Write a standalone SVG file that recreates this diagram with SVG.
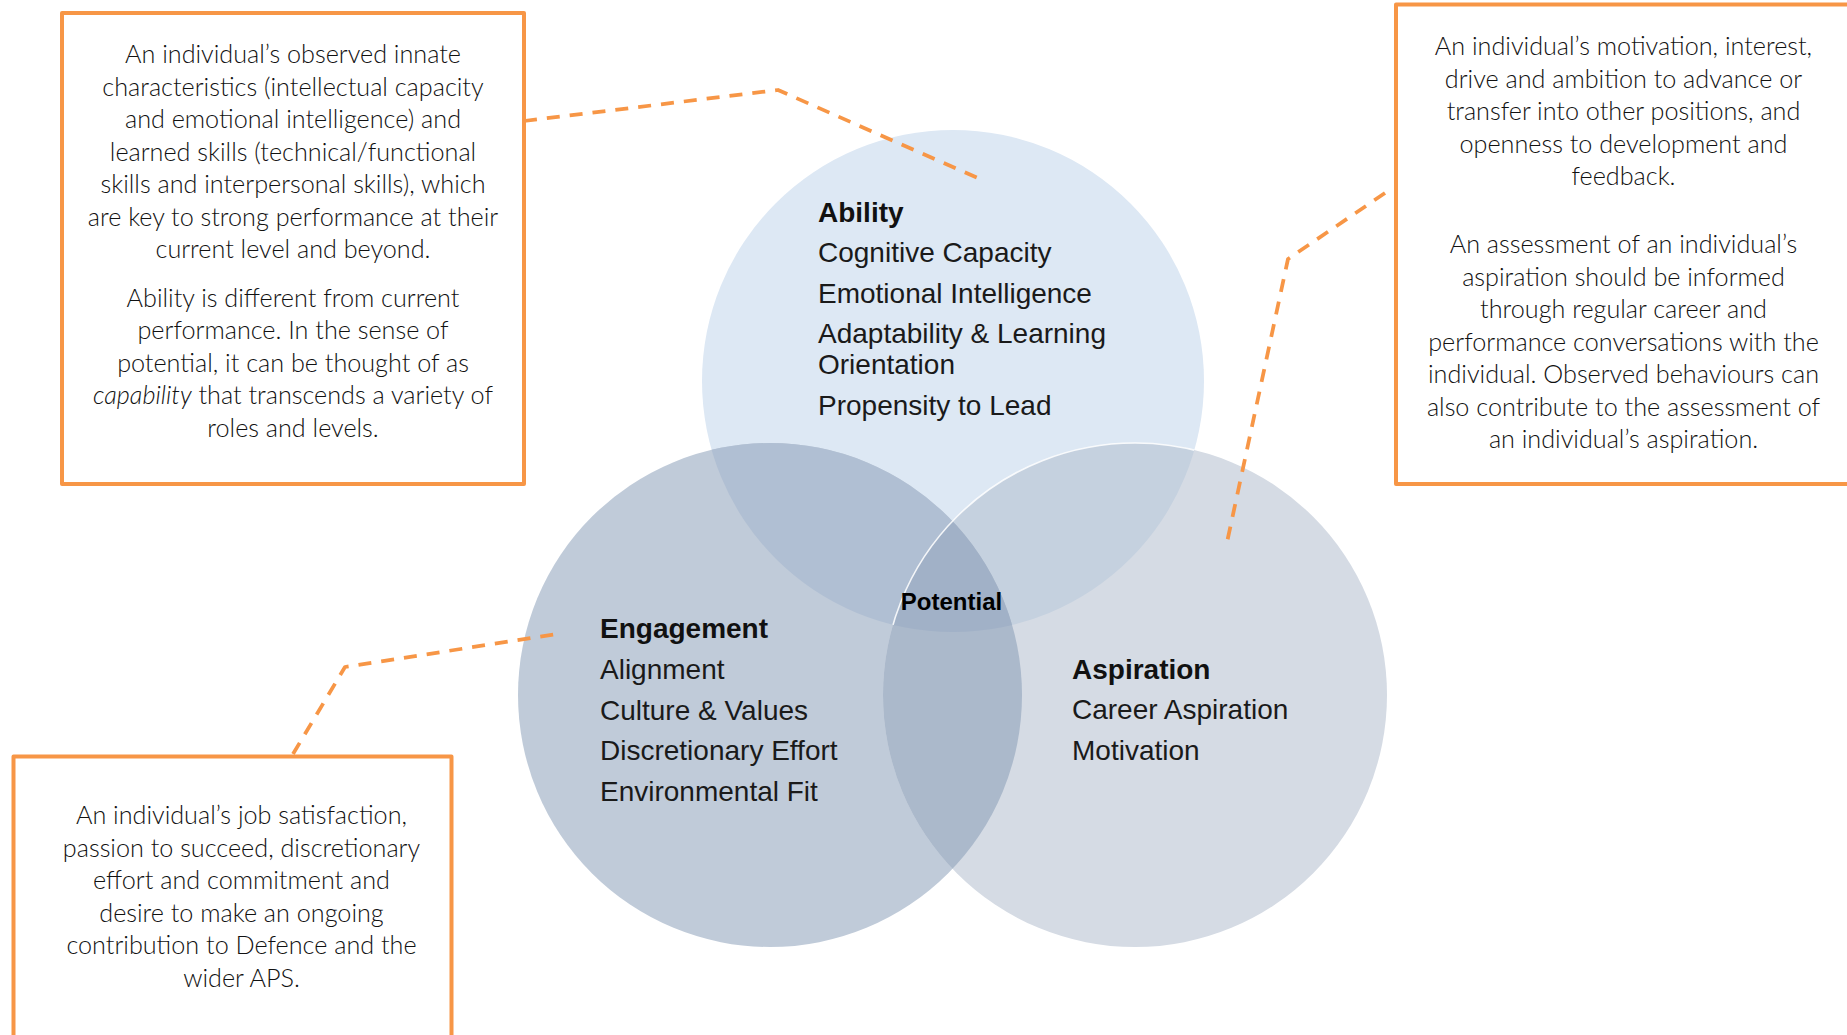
<svg xmlns="http://www.w3.org/2000/svg" width="1847" height="1035" viewBox="0 0 1847 1035">
  <style>
    .head { font-family: "Liberation Sans", Arial, sans-serif; font-size: 28px; font-weight: bold; fill: #111; }
    .item { font-family: "Liberation Sans", Arial, sans-serif; font-size: 28px; fill: #1a1a1a; }
    .pot  { font-family: "Liberation Sans", Arial, sans-serif; font-size: 24px; font-weight: bold; fill: #000; }
    .note { font-family: Lato, "Open Sans", sans-serif; font-weight: 300; font-size: 25.2px; fill: #111; text-anchor: middle; }
    .box  { fill: #fff; stroke: #F79646; stroke-width: 4; stroke-linejoin: round; }
    .link { fill: none; stroke: #F79646; stroke-width: 3.75; stroke-dasharray: 13 10; stroke-linejoin: round; }
  </style>
  <defs>
    <clipPath id="clipAbility"><circle cx="953" cy="381" r="251"/></clipPath>
    <clipPath id="clipEngagement"><circle cx="770" cy="695" r="252"/></clipPath>
  </defs>

  <rect width="1847" height="1035" fill="#fff"/>

  <!-- Venn circle: Ability -->
  <g id="ability">
    <circle cx="953" cy="381" r="251" fill="#DDE8F4"/>
    <text class="head" x="818" y="222">Ability</text>
    <text class="item" x="818" y="262">Cognitive Capacity</text>
    <text class="item" x="818" y="302.5">Emotional Intelligence</text>
    <text class="item" x="818" y="343">Adaptability &amp; Learning</text>
    <text class="item" x="818" y="374">Orientation</text>
    <text class="item" x="818" y="414.5">Propensity to Lead</text>
  </g>

  <!-- Venn circle: Engagement (with its overlap on Ability) -->
  <g id="engagement">
    <circle cx="770" cy="695" r="252" fill="#C0CBD9"/>
    <circle cx="770" cy="695" r="252" fill="#B0BFD3" clip-path="url(#clipAbility)"/>
    <text class="head" x="600" y="637.5">Engagement</text>
    <text class="item" x="600" y="678.5">Alignment</text>
    <text class="item" x="600" y="719.5">Culture &amp; Values</text>
    <text class="item" x="600" y="760">Discretionary Effort</text>
    <text class="item" x="600" y="801">Environmental Fit</text>
  </g>

  <!-- Venn circle: Aspiration (with its overlaps) -->
  <g id="aspiration">
    <circle cx="1135" cy="695" r="252" fill="#D5DBE4"/>
    <circle cx="1135" cy="695" r="252" fill="#C5D1DF" clip-path="url(#clipAbility)"/>
    <circle cx="1135" cy="695" r="252" fill="#ABB9CB" clip-path="url(#clipEngagement)"/>
    <g clip-path="url(#clipAbility)">
      <circle cx="1135" cy="695" r="252" fill="#A1B1C7" clip-path="url(#clipEngagement)"/>
    </g>
    <circle cx="1135" cy="695" r="252" fill="none" stroke="#fff" stroke-opacity="0.85" stroke-width="1.6" clip-path="url(#clipAbility)"/>
    <text class="head" x="1072" y="678.5">Aspiration</text>
    <text class="item" x="1072" y="719">Career Aspiration</text>
    <text class="item" x="1072" y="760">Motivation</text>
  </g>

  <!-- Centre label -->
  <g id="potential">
    <text class="pot" x="951.5" y="610" text-anchor="middle">Potential</text>
  </g>

  <!-- Dashed leader lines from the notes to the circles -->
  <g id="connectors">
    <path class="link" d="M524,121 L778,90 L980,179"/>
    <path class="link" d="M1385,193 L1288,259 L1226,547"/>
    <path class="link" d="M293,754 L345,667 L557,634"/>
  </g>

  <!-- Note: Ability -->
  <g id="note-ability">
    <rect class="box" x="62" y="13" width="462" height="471"/>
    <text class="note" x="293" y="63.3">An individual’s observed innate</text>
    <text class="note" x="293" y="95.8">characteristics (intellectual capacity</text>
    <text class="note" x="293" y="128.3">and emotional intelligence) and</text>
    <text class="note" x="293" y="160.8">learned skills (technical/functional</text>
    <text class="note" x="293" y="193.3">skills and interpersonal skills), which</text>
    <text class="note" x="293" y="225.8">are key to strong performance at their</text>
    <text class="note" x="293" y="258.3">current level and beyond.</text>
    <text class="note" x="293" y="306.7">Ability is different from current</text>
    <text class="note" x="293" y="339.2">performance. In the sense of</text>
    <text class="note" x="293" y="371.7">potential, it can be thought of as</text>
    <text class="note" x="293" y="404.2"><tspan font-style="italic">capability</tspan> that transcends a variety of</text>
    <text class="note" x="293" y="436.7">roles and levels.</text>
  </g>

  <!-- Note: Aspiration -->
  <g id="note-aspiration">
    <rect class="box" x="1396" y="4.5" width="480" height="479.5"/>
    <text class="note" x="1623.5" y="55">An individual’s motivation, interest,</text>
    <text class="note" x="1623.5" y="87.5">drive and ambition to advance or</text>
    <text class="note" x="1623.5" y="120">transfer into other positions, and</text>
    <text class="note" x="1623.5" y="152.5">openness to development and</text>
    <text class="note" x="1623.5" y="185">feedback.</text>
    <text class="note" x="1623.5" y="253.3">An assessment of an individual’s</text>
    <text class="note" x="1623.5" y="285.8">aspiration should be informed</text>
    <text class="note" x="1623.5" y="318.3">through regular career and</text>
    <text class="note" x="1623.5" y="350.8">performance conversations with the</text>
    <text class="note" x="1623.5" y="383.3">individual. Observed behaviours can</text>
    <text class="note" x="1623.5" y="415.8">also contribute to the assessment of</text>
    <text class="note" x="1623.5" y="448.3">an individual’s aspiration.</text>
  </g>

  <!-- Note: Engagement -->
  <g id="note-engagement">
    <rect class="box" x="13.5" y="756.5" width="438" height="300"/>
    <text class="note" x="241.5" y="824">An individual’s job satisfaction,</text>
    <text class="note" x="241.5" y="856.5">passion to succeed, discretionary</text>
    <text class="note" x="241.5" y="889">effort and commitment and</text>
    <text class="note" x="241.5" y="921.5">desire to make an ongoing</text>
    <text class="note" x="241.5" y="954">contribution to Defence and the</text>
    <text class="note" x="241.5" y="986.5">wider APS.</text>
  </g>
</svg>
